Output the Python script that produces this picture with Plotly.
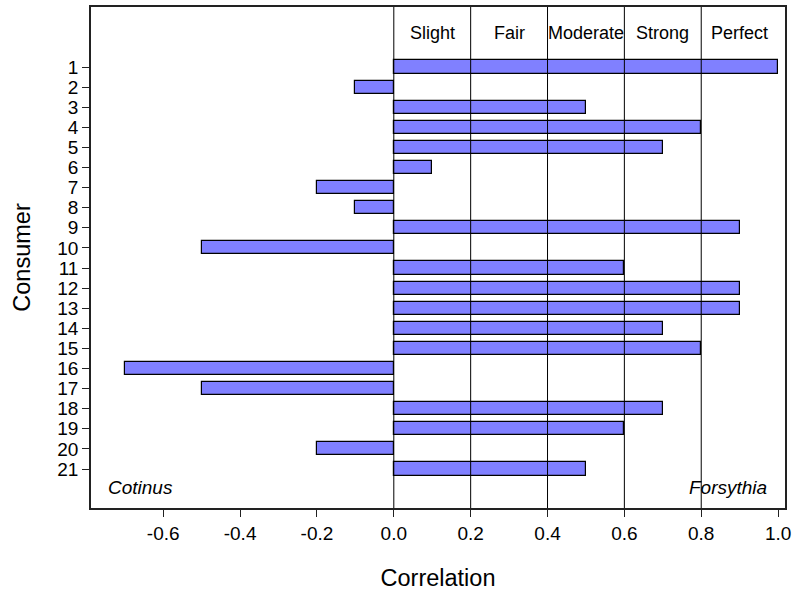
import plotly.graph_objects as go

consumers = list(range(1, 22))
correlation = [1.0, -0.1, 0.5, 0.8, 0.7, 0.1, -0.2, -0.1, 0.9, -0.5, 0.6,
               0.9, 0.9, 0.7, 0.8, -0.7, -0.5, 0.7, 0.6, -0.2, 0.5]
strength_labels = ["Slight", "Fair", "Moderate", "Strong", "Perfect"]
strength_centers = [0.1, 0.3, 0.5, 0.7, 0.9]
boundaries = [0.0, 0.2, 0.4, 0.6, 0.8]
x_ticks = [-0.6, -0.4, -0.2, 0.0, 0.2, 0.4, 0.6, 0.8, 1.0]

FONT = "Liberation Sans, Arial, sans-serif"

fig = go.Figure()
fig.add_trace(go.Bar(
    x=correlation, y=consumers, orientation="h", width=0.65,
    marker=dict(color="#8080FF", line=dict(color="#000000", width=1.2)),
    showlegend=False,
))

for b in boundaries:
    fig.add_shape(type="line", xref="x", yref="paper", x0=b, x1=b, y0=0, y1=1,
                  line=dict(color="#000000", width=1), layer="above")

for lab, c in zip(strength_labels, strength_centers):
    fig.add_annotation(x=c, y=-0.7, xref="x", yref="y", text=lab, showarrow=False,
                       font=dict(size=18, color="#000000", family=FONT))

fig.add_annotation(x=-0.748, y=21.93, xref="x", yref="y", text="<i>Cotinus</i>",
                   showarrow=False, xanchor="left",
                   font=dict(size=19, color="#000000", family=FONT))
fig.add_annotation(x=0.976, y=21.93, xref="x", yref="y", text="<i>Forsythia</i>",
                   showarrow=False, xanchor="right",
                   font=dict(size=19, color="#000000", family=FONT))

fig.update_layout(
    width=792, height=591,
    margin=dict(l=91, r=7, t=7, b=83),
    plot_bgcolor="white", paper_bgcolor="white",
    font=dict(family=FONT, color="#000000", size=19),
    bargap=0,
)
fig.update_xaxes(
    range=[-0.788, 1.018], tickvals=x_ticks,
    ticktext=[f"{v:.1f}" for v in x_ticks],
    ticks="outside", ticklen=7, tickcolor="#222222", tickwidth=1.2,
    showline=True, linecolor="#222222", linewidth=1.5, mirror=True,
    showgrid=False, zeroline=False, automargin=False,
    title=dict(text="Correlation", font=dict(size=23.5), standoff=27),
    tickfont=dict(size=19),
)
fig.update_yaxes(
    range=[22.94, -1.985], tickvals=consumers,
    ticktext=[str(c) for c in consumers],
    ticks="outside", ticklen=7, tickcolor="#222222", tickwidth=1.2,
    showline=True, linecolor="#222222", linewidth=1.5, mirror=True,
    showgrid=False, zeroline=False, automargin=False,
    title=dict(text="Consumer", font=dict(size=23.5), standoff=20),
    tickfont=dict(size=19),
)

fig.write_html("out.html")
